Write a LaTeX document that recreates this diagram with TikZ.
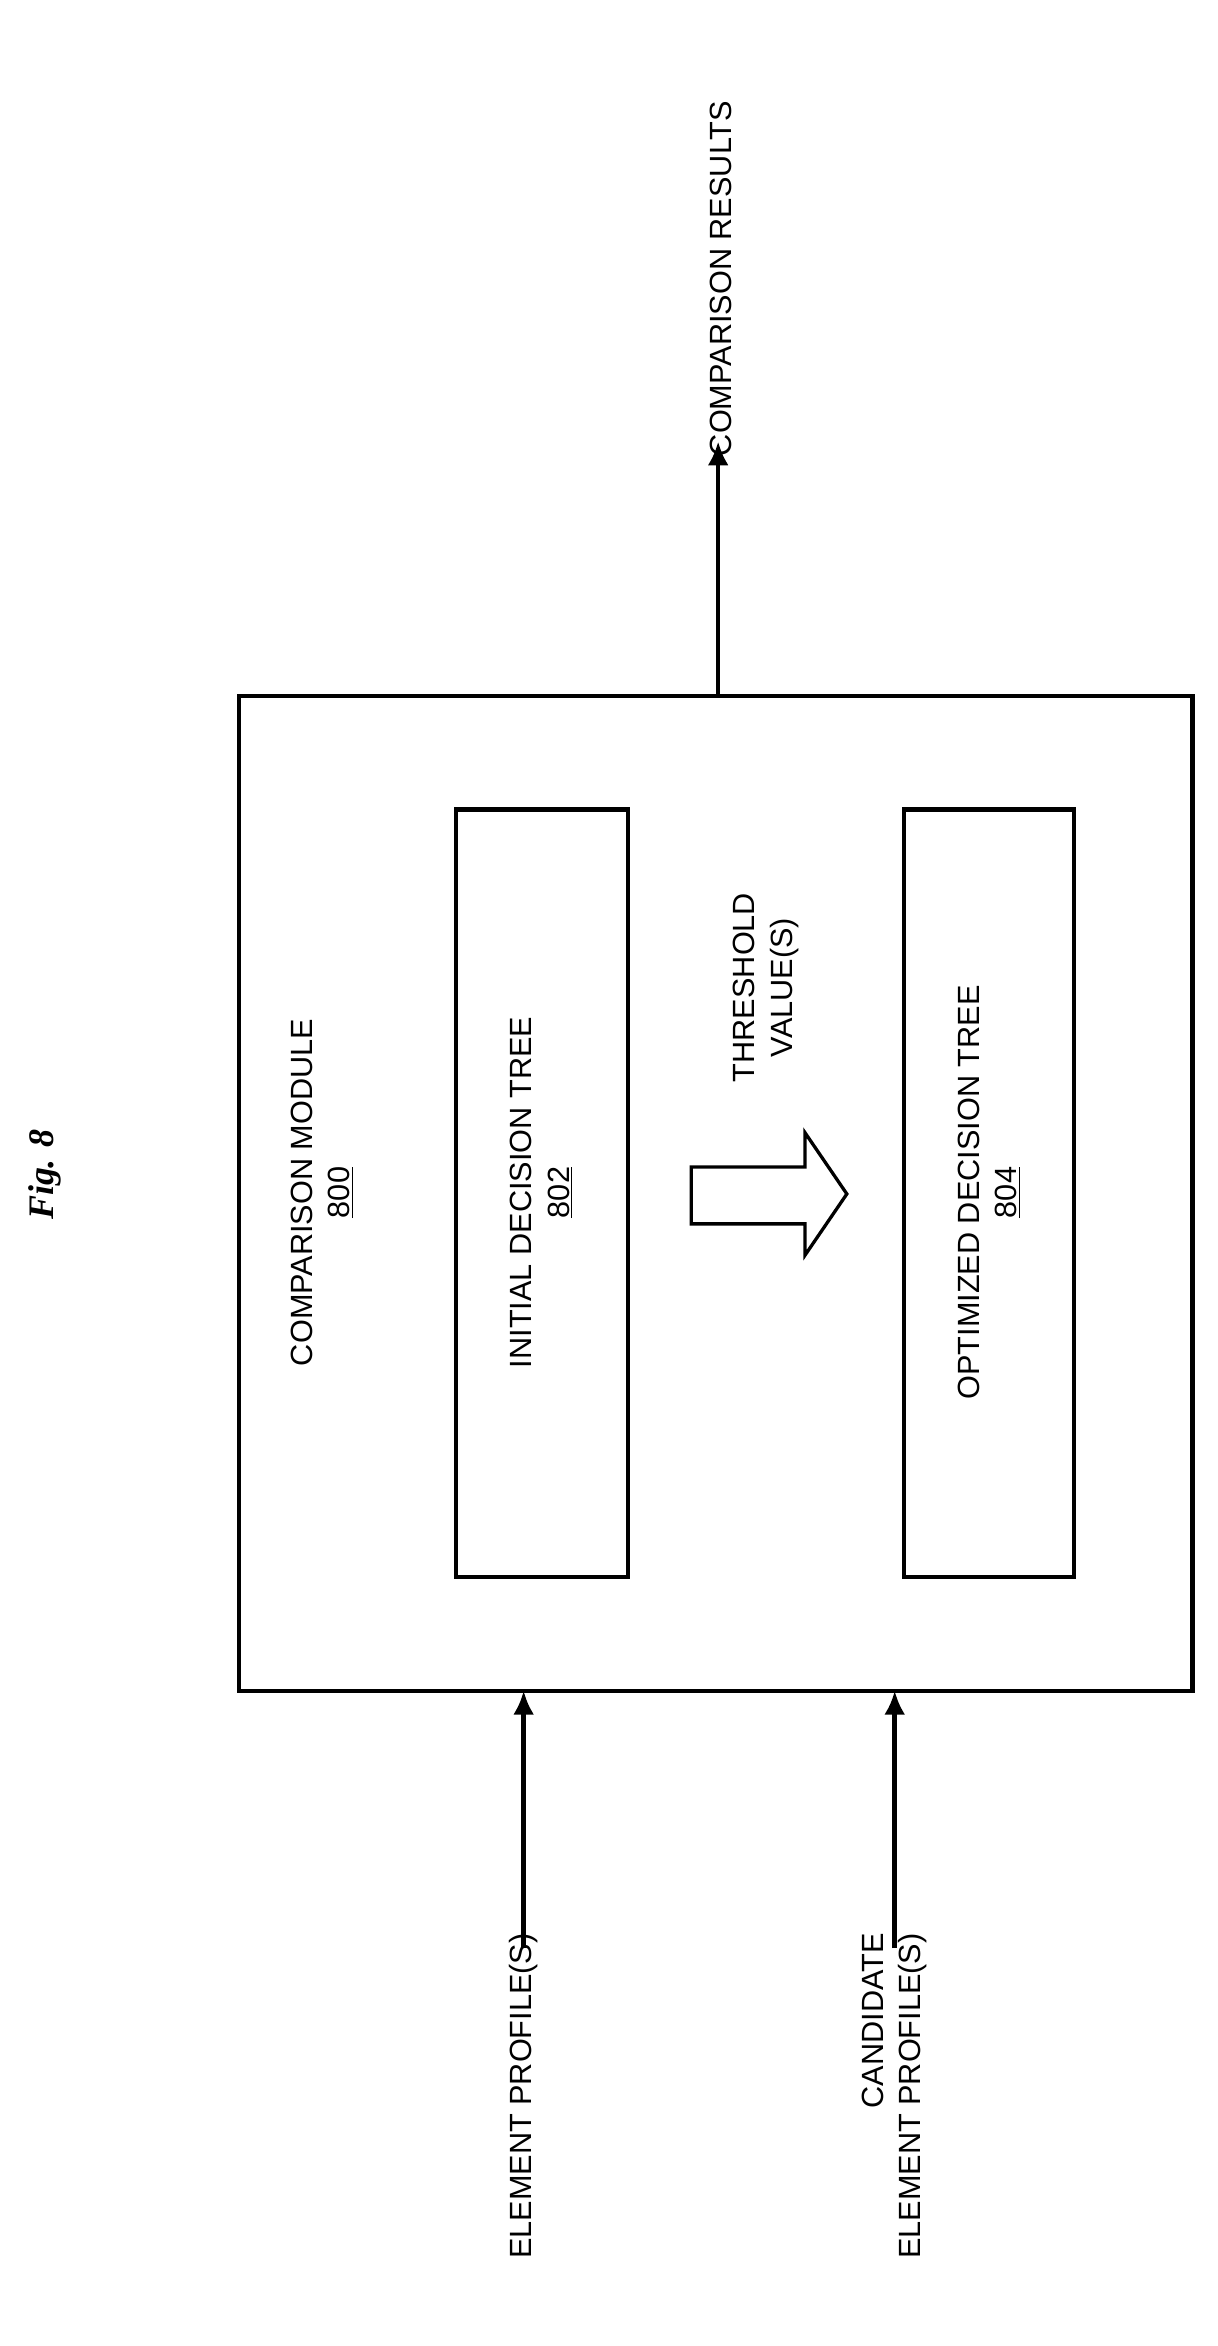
\documentclass[tikz,border=0pt]{standalone}
\usepackage{fontspec}
\setmainfont{Liberation Sans}
\newfontfamily\figfont{Liberation Serif}
\usetikzlibrary{arrows.meta}
\begin{document}
\begin{tikzpicture}[x=1pt,y=-1pt,
  lbl/.style={font=\fontsize{20.5}{25}\selectfont,rotate=90,align=center,inner sep=0pt},
  conn/.style={line width=3pt,-{Latex[length=16pt,width=14pt]}},
  boxst/.style={draw,line width=2.8pt}]
\useasboundingbox (0,0) rectangle (814,1568);
\draw[boxst] (160,465) rectangle (797,1130);
\coordinate (outerTop) at (480,465);
\coordinate (in1) at (350,1130);
\coordinate (in2) at (598,1130);
\draw[boxst] (305,541) rectangle (420,1054);
\draw[boxst] (604,541) rectangle (718,1054);
\node[lbl,font=\fontsize{24}{28}\selectfont\figfont\bfseries\itshape] (fig) at (30,785) {Fig. 8};
\node[lbl] (cm) at (215,797) {COMPARISON MODULE\\\underline{800}};
\node[lbl] (idt) at (362,797) {INITIAL DECISION TREE\\\underline{802}};
\node[lbl] (odt) at (661,797) {OPTIMIZED DECISION TREE\\\underline{804}};
\node[lbl] (thr) at (512,660) {THRESHOLD\\VALUE(S)};
\draw[line width=2.2pt] (462,780)--(538,780)--(538,757)--(566,798)--(538,839)--(538,818)--(462,818)--cycle;
\node[lbl,anchor=west] (res) at (482,305) {COMPARISON RESULTS};
\node[lbl,anchor=east] (ep) at (350,1292) {ELEMENT PROFILE(S)};
\node[lbl,anchor=east,align=right] (cep) at (598,1292) {CANDIDATE\\ELEMENT PROFILE(S)};
\draw[conn] (outerTop) -- ([yshift=10pt]res.west -| outerTop);
\draw[conn] ([yshift=-10pt]ep.east) -- (in1);
\draw[conn] ([yshift=-10pt]cep.east -| in2) -- (in2);
\end{tikzpicture}
\end{document}
